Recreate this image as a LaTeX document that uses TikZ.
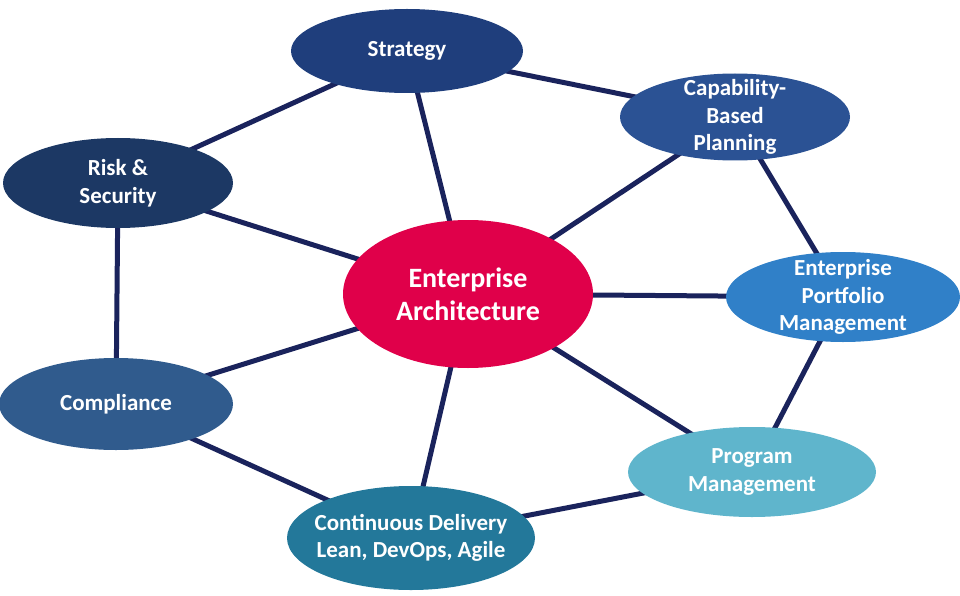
\documentclass[tikz,border=0pt]{standalone}
\usepackage{fontspec}
\setmainfont{Carlito}
\usetikzlibrary{shapes.geometric,backgrounds}
\definecolor{cStrat}{RGB}{31,62,124}
\definecolor{cCap}{RGB}{43,82,148}
\definecolor{cRisk}{RGB}{28,56,100}
\definecolor{cEA}{RGB}{224,0,74}
\definecolor{cPort}{RGB}{48,128,200}
\definecolor{cComp}{RGB}{48,91,141}
\definecolor{cProg}{RGB}{95,181,204}
\definecolor{cCont}{RGB}{35,120,154}
\definecolor{cEdge}{RGB}{26,35,92}
\tikzset{
  blob/.style={ellipse, inner xsep=-45pt, inner ysep=-25pt, align=center, text=white,
    font=\fontsize{23}{27.5}\selectfont\bfseries},
  link/.style={draw=cEdge, line width=5pt}
}
\begin{document}
\begin{tikzpicture}[x=1pt,y=-1pt]
\useasboundingbox (0,0) rectangle (960,596);
\node[blob, fill=cStrat, minimum width=232pt, minimum height=84pt] (strat) at (407,51) {Strategy};
\node[blob, fill=cCap, minimum width=230pt, minimum height=87pt] (cap) at (735,117) {Capability-\\Based\\Planning};
\node[blob, fill=cRisk, minimum width=230pt, minimum height=90pt] (risk) at (118,183) {Risk \&\\Security};
\node[blob, fill=cEA, minimum width=250pt, minimum height=148pt, font=\fontsize{28}{33}\selectfont\bfseries] (ea) at (468,294) {Enterprise\\Architecture};
\node[blob, fill=cPort, minimum width=234pt, minimum height=90pt] (port) at (843,297) {Enterprise\\Portfolio\\Management};
\node[blob, fill=cComp, minimum width=234pt, minimum height=92pt] (comp) at (116,404) {Compliance};
\node[blob, fill=cProg, minimum width=248pt, minimum height=90pt] (prog) at (752,472) {Program\\Management};
\node[blob, fill=cCont, minimum width=248pt, minimum height=104pt] (cont) at (411,538) {Continuous Delivery\\Lean, DevOps, Agile};
\begin{scope}[on background layer]
\draw[link] (strat.center) -- (risk.center);
\draw[link] (strat.center) -- (cap.center);
\draw[link] (strat.center) -- (ea.center);
\draw[link] (risk.center) -- (ea.center);
\draw[link] (risk.center) -- (comp.center);
\draw[link] (cap.center) -- (ea.center);
\draw[link] (cap.center) -- (port.center);
\draw[link] (ea.center) -- (port.center);
\draw[link] (port.center) -- (prog.center);
\draw[link] (ea.center) -- (prog.center);
\draw[link] (prog.center) -- (cont.center);
\draw[link] (ea.center) -- (cont.center);
\draw[link] (ea.center) -- (comp.center);
\draw[link] (comp.center) -- (cont.center);
\end{scope}
\end{tikzpicture}
\end{document}
